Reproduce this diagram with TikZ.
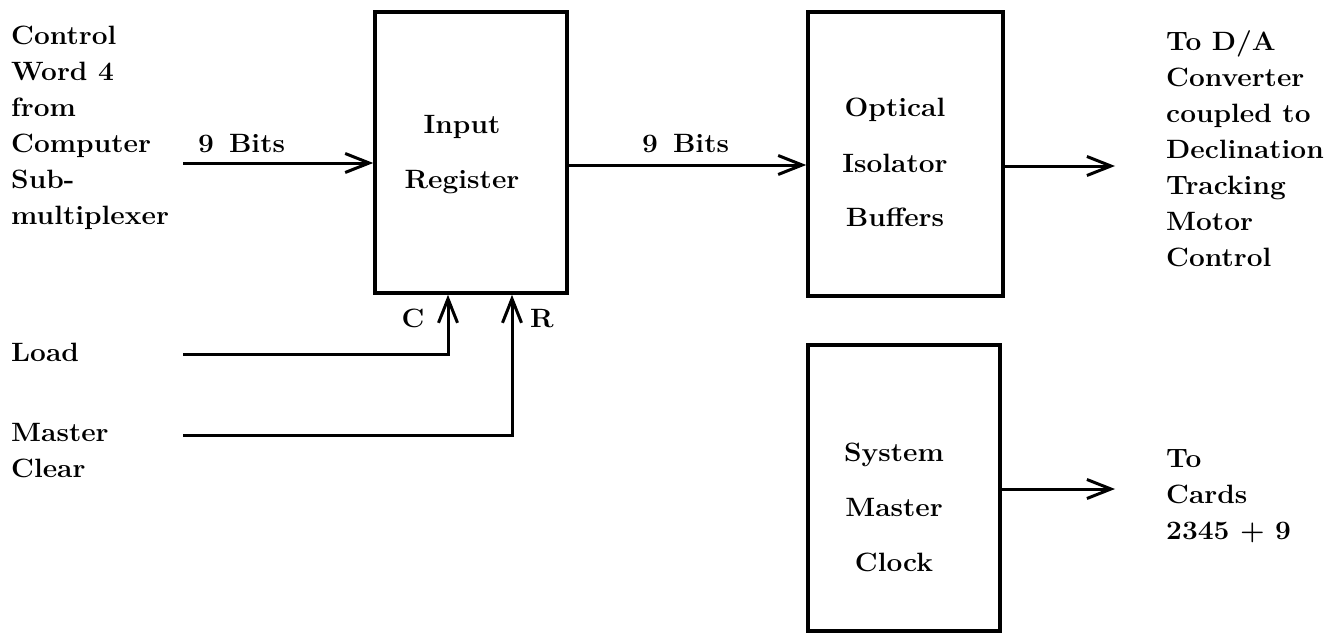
\documentclass[tikz,border=0pt]{standalone}
\usepackage{fontspec}
\setmainfont{Latin Modern Roman}[FakeStretch=1.06]
\usetikzlibrary{arrows.meta}
\newcommand\stackL[1]{\begin{tabular}[t]{@{}l@{}}#1\end{tabular}}
\newcommand\stackC[1]{\begin{tabular}[t]{@{}c@{}}#1\end{tabular}}
\begin{document}
\begin{tikzpicture}[x=1pt,y=-1pt,
  every node/.style={font=\fontsize{26.5}{36}\selectfont\bfseries, inner sep=0pt},
  blk/.style={draw, line width=3.5pt},
  wire/.style={line width=3pt},
  arr/.style={wire, -{Straight Barb[length=24pt,width=19pt]}},
  txt/.style={anchor=base west},
  ctxt/.style={anchor=base}]
\useasboundingbox (0,0) rectangle (1342,634);

% boxes
\node[blk, minimum width=192pt, minimum height=281pt] (ir) at (471,152.5) {};
\node[blk, minimum width=195pt, minimum height=284pt] (opt) at (905.5,154) {};
\node[blk, minimum width=192pt, minimum height=286pt] (clk) at (904,488) {};

% box texts
\node[ctxt] (irt) at (462,133) {\stackC{Input\\[19pt]Register}};
\node[ctxt] (optt) at (895,117) {\stackC{Optical\\[19pt]Isolator\\[19pt]Buffers}};
\node[ctxt] (clkt) at (894,461) {\stackC{System\\[19pt]Master\\[19pt]Clock}};

% outer texts
\node[txt] (src) at (11,45) {\stackL{Control\\Word 4\\from\\Computer\\Sub-\\multiplexer}};
\node[txt] (load) at (11,361) {Load};
\node[txt] (mclr) at (11,441) {\stackL{Master\\Clear}};
\node[txt] (dest) at (1166,51) {\stackL{To D/A\\Converter\\coupled to\\Declination\\Tracking\\Motor\\Control}};
\node[txt] (cards) at (1166,467) {\stackL{To\\Cards\\2345 + 9}};
\node[txt] (bits1) at (198,152) {9\hspace{15pt}Bits};
\node[txt] (bits2) at (642,152) {9\hspace{15pt}Bits};
\node[ctxt] (clab) at (413,327) {C};
\node[ctxt] (rlab) at (542,327) {R};

% connectors
\coordinate (inS) at (183,163);
\draw[arr] (inS) -- (inS -| ir.west);
\coordinate (o1) at (567,165);
\draw[arr] (o1) -- (o1 -| opt.west);
\coordinate (o2) at (1115,166);
\draw[arr] (opt.east |- o2) -- (o2);
\coordinate (loadS) at (183,354);
\coordinate (cx) at (448,0);
\draw[arr] (loadS) -| (ir.south -| cx);
\coordinate (mcS) at (183,435);
\coordinate (rx) at (512,0);
\draw[arr] (mcS) -| (ir.south -| rx);
\coordinate (o3) at (1115,489);
\draw[arr] (clk.east |- o3) -- (o3);
\end{tikzpicture}
\end{document}
